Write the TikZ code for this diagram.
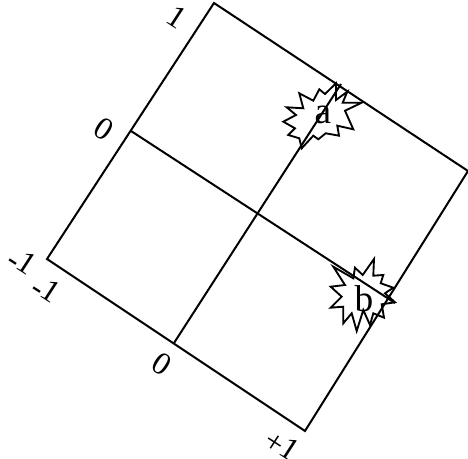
\documentclass[tikz,border=0pt]{standalone}
\usepackage{fontspec}
\setmainfont{Liberation Serif}
\tikzset{
  edge/.style={draw=black,line width=1.5pt,line join=miter},
  star/.style={draw=black,line width=1.4pt,line join=miter},
  axlabel/.style={font=\fontsize{24}{24}\selectfont,rotate=-33,inner sep=0pt},
  starlabel/.style={font=\fontsize{28}{28}\selectfont,inner sep=0pt}
}
\newcommand{\upone}{\kern-1.2pt\raisebox{2.2pt}{1}}
\begin{document}
\begin{tikzpicture}[x=0.75pt,y=-0.75pt]
\useasboundingbox (0,0) rectangle (468,459);
\coordinate (T) at (214,3);
\coordinate (R) at (468,171);
\coordinate (B) at (305,431);
\coordinate (L) at (47,259);
\coordinate (ML) at (131,131);
\coordinate (MB) at (174,343);
\coordinate (EA) at (341,84);
\coordinate (EB) at (395,303);
\draw[edge] (T) -- (R) -- (B) -- (L) -- cycle;
\draw[edge] (ML) -- (EB);
\draw[edge] (MB) -- (EA);
% star a
\draw[star] (301.7,148.3) -- (299.3,138.3) -- (288.3,135) -- (295,128.3) -- (283.3,121.7) -- (296,115) -- (286.7,107.3) -- (303.3,108.3) -- (299.3,93.3) -- (313.3,100.7) -- (319.3,89.3) -- (325,94) -- (336,83.3) -- (336,100) -- (347.3,91.7) -- (342.7,102.7) -- (361.7,102.7) -- (345,110.7) -- (353.3,129.3) -- (337.3,125.7) -- (339,135.7) -- (325.7,133.3) -- (318.3,139.3) -- (313.3,135.7) -- cycle;
% star b
\draw[star] (333.3,266.7) -- (353.3,278.3) -- (355,267.7) -- (362.7,275) -- (374,259) -- (373.3,275.7) -- (383.3,275) -- (380.7,283.3) -- (393.3,287.7) -- (385,293.3) -- (395,302.3) -- (381.7,304.3) -- (384,317.7) -- (373.3,313.3) -- (370,325) -- (363.3,310) -- (356.7,331) -- (351.7,313.3) -- (343.3,323.3) -- (343.3,306.7) -- (330.7,307.7) -- (341.7,296.7) -- (330.7,286.7) -- (345,285) -- cycle;
\node[starlabel] (a) at (323,115) {a};
\node[starlabel] (b) at (364,299) {b};
\node[axlabel] (n1) at (176.5,17) {1};
\node[axlabel] (n0l) at (104,129) {0};
\node[axlabel] (nm1a) at (22,262) {-\upone};
\node[axlabel] (nm1b) at (46,290) {-\upone};
\node[axlabel] (n0b) at (162,364) {0};
\node[axlabel] (np1) at (282,445.5) {+\upone};
\end{tikzpicture}
\end{document}
